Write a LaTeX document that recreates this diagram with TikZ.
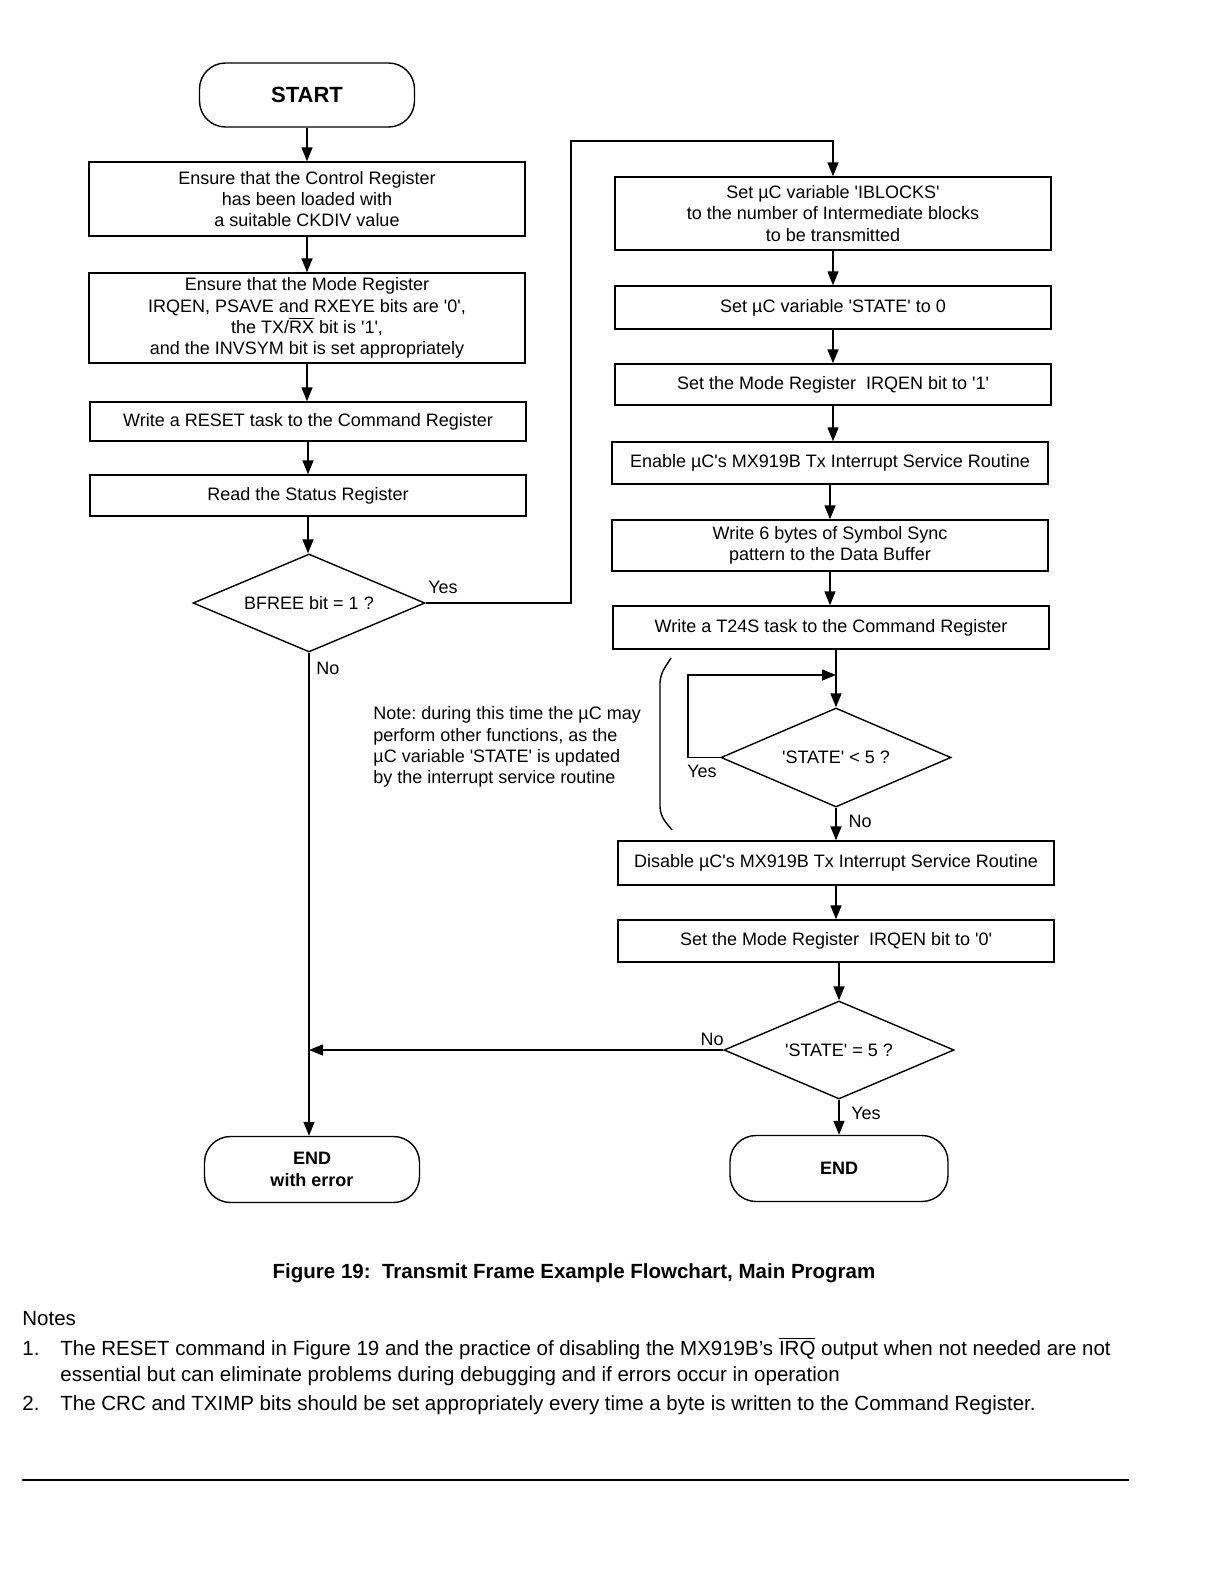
\documentclass[tikz,border=0pt]{standalone}
\usepackage{fontspec}
\setmainfont{Liberation Sans}[Ligatures=TeXOff]
\usetikzlibrary{shapes.geometric,arrows.meta}
\frenchspacing
\begin{document}
\begin{tikzpicture}[x=0.5pt,y=-0.5pt,
  every node/.style={font=\fontsize{9}{10.6}\selectfont},
  box/.style={draw,line width=0.7pt,minimum width=218pt,align=center,inner sep=2pt},
  term/.style={draw,line width=0.7pt,rounded corners=13pt,minimum width=107.5pt,minimum height=33pt,align=center,font=\fontsize{9}{11}\selectfont\bfseries},
  dec/.style={draw,diamond,line width=0.7pt,aspect=2.4,inner sep=0pt,minimum width=116pt,minimum height=49pt},
  arr/.style={line width=0.7pt,-{Triangle[length=7pt,width=5.5pt]}},
  ln/.style={line width=0.7pt},
  lbl/.style={inner sep=0pt},
  txt/.style={inner sep=0pt,anchor=base west,font=\fontsize{10.25}{12}\selectfont}
]
\useasboundingbox (0,0) rectangle (1224,1584);

% left column
\node[term,font=\fontsize{11}{13}\selectfont\bfseries,minimum height=32pt] (start) at (307,95) {START};
\node[box,minimum height=37pt] (b1) at (307,199) {Ensure that the Control Register\\has been loaded with\\a suitable CKDIV value};
\node[box,minimum height=45pt] (b2) at (307,318) {Ensure that the Mode Register\\IRQEN, PSAVE and RXEYE bits are '0',\\the TX/$\overline{\mbox{RX}}$ bit is '1',\\and the INVSYM bit is set appropriately};
\node[box,minimum height=19.5pt] (b3) at (308,421.5) {Write a RESET task to the Command Register};
\node[box,minimum height=20.5pt] (b4) at (308,495.5) {Read the Status Register};
\node[dec] (d1) at (309,603) {BFREE bit = 1 ?};
\node[term] (enderr) at (312,1169.5) {END\\with error};

% right column
\node[box,minimum height=36.5pt] (r1) at (833,213.5) {Set µC variable 'IBLOCKS'\\to the number of Intermediate blocks\\to be transmitted};
\node[box,minimum height=21.5pt] (r2) at (833,307.5) {Set µC variable 'STATE' to 0};
\node[box,minimum height=20.5pt] (r3) at (833,384.5) {Set the Mode Register\ \ IRQEN bit to '1'};
\node[box,minimum height=21pt] (r4) at (830,463) {Enable µC's MX919B Tx Interrupt Service Routine};
\node[box,minimum height=25.5pt] (r5) at (830,545.5) {Write 6 bytes of Symbol Sync\\pattern to the Data Buffer};
\node[box,minimum height=21.5pt] (r6) at (831,627.5) {Write a T24S task to the Command Register};
\node[dec,minimum width=115pt,minimum height=49.5pt] (d2) at (836,757.5) {'STATE' < 5 ?};
\node[box,minimum height=22pt] (r7) at (836,863) {Disable µC's MX919B Tx Interrupt Service Routine};
\node[box,minimum height=21pt] (r8) at (836,941) {Set the Mode Register\ \ IRQEN bit to '0'};
\node[dec,minimum width=115pt,minimum height=49pt] (d3) at (839,1050) {'STATE' = 5 ?};
\node[term,minimum width=109pt] (end) at (839,1168.5) {END};

% connectors left
\draw[arr] (start.south) -- (start.south |- b1.north);
\draw[arr] (b1.south) -- (b1.south |- b2.north);
\draw[arr] (b2.south) -- (b2.south |- b3.north);
\draw[arr] (b3.south) -- (b3.south |- b4.north);
\draw[arr] (b4.south) -- (b4.south |- d1.north);
\draw[arr] (d1.south) -- (d1.south |- enderr.north);
\coordinate (ya) at (571,141);
\draw[arr] (d1.east) -| (ya) -| (r1.north);

% connectors right
\draw[arr] (r1.south) -- (r1.south |- r2.north);
\draw[arr] (r2.south) -- (r2.south |- r3.north);
\draw[arr] (r3.south) -- (r3.south |- r4.north);
\draw[arr] (r4.south) -- (r4.south |- r5.north);
\draw[arr] (r5.south) -- (r5.south |- r6.north);
\draw[arr] (d2.north |- r6.south) -- (d2.north);
\coordinate (lc) at (688,675);
\coordinate (lp) at (836,675);
\draw[arr] (d2.west) -| (lc) -- (lp);
\draw[arr] (d2.south) -- (d2.south |- r7.north);
\draw[arr] (r7.south) -- (r7.south |- r8.north);
\draw[arr] (d3.north |- r8.south) -- (d3.north);
\draw[arr] (d3.south) -- (end.north);
\coordinate (jn) at (309,1050);
\draw[arr] (d3.west) -- (jn);

% labels
\node[lbl] (l1) at (443,587) {Yes};
\node[lbl] (l2) at (328,668) {No};
\node[lbl] (l3) at (702,771) {Yes};
\node[lbl] (l4) at (860,821) {No};
\node[lbl] (l5) at (712,1039) {No};
\node[lbl] (l6) at (866,1113) {Yes};

% note and bracket
\node[lbl,anchor=west,align=left] (note) at (373,747) {Note: during this time the µC may\\perform other functions, as the\\µC variable 'STATE' is updated\\by the interrupt service routine};
\draw[ln,rounded corners=4pt] (671,658) -- (660,675) -- (660,815) -- (672,830);

% caption and notes
\node[lbl,anchor=base,font=\fontsize{10.25}{12}\selectfont\bfseries] (cap) at (574,1278) {Figure 19:\ \ Transmit Frame Example Flowchart, Main Program};
\node[txt] (notes) at (22,1325) {Notes};
\node[txt] (n1) at (22,1355) {1.};
\node[txt] (t1) at (60,1355) {The RESET command in Figure 19 and the practice of disabling the MX919B’s $\overline{\mbox{IRQ}}$ output when not needed are not};
\node[txt] (t1b) at (60,1381) {essential but can eliminate problems during debugging and if errors occur in operation};
\node[txt] (n2) at (22,1410) {2.};
\node[txt] (t2) at (60,1410) {The CRC and TXIMP bits should be set appropriately every time a byte is written to the Command Register.};
\draw[line width=1pt] (22,1480) -- (1129,1480);
\end{tikzpicture}
\end{document}
